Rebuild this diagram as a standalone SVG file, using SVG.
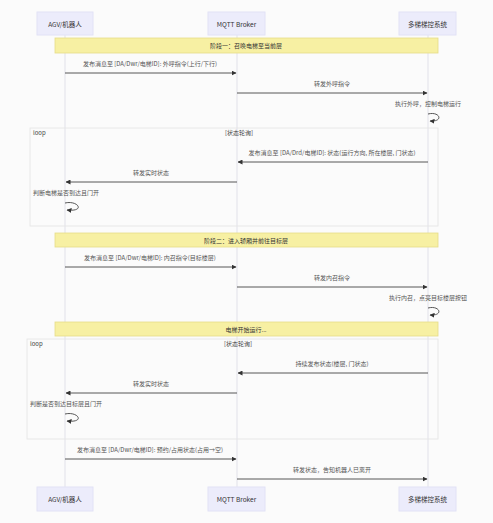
<svg xmlns="http://www.w3.org/2000/svg" width="493" height="523" viewBox="0 0 493 523">
<defs>
<style>
text{font-family:"Noto Sans CJK SC","Liberation Sans",sans-serif;fill:#333;}
.actor rect{fill:#ececfb;stroke:#e2e2f6;stroke-width:1;}
.actor text{font-size:6.5px;text-anchor:middle;dominant-baseline:central;}
.life{stroke:#dcdce6;stroke-width:0.8;}
.note rect{fill:#f7f0a3;stroke:#e6dc88;stroke-width:0.8;}
.note text{font-size:6px;text-anchor:middle;dominant-baseline:central;}
.msg{stroke:#444;stroke-width:0.9;fill:none;marker-end:url(#ah);}
.lbl{font-size:6px;text-anchor:middle;fill:#555;}
.lbll{font-size:6px;fill:#555;}
.loop{fill:none;stroke:#e3e3e3;stroke-width:0.8;}
.lt{font-size:6px;fill:#444;}
</style>
<marker id="ah" viewBox="0 0 10 10" refX="9" refY="5" markerWidth="5" markerHeight="5" orient="auto-start-reverse" markerUnits="userSpaceOnUse">
<path d="M0,0 L10,5 L0,10 z" fill="#333"/>
</marker>
</defs>
<rect width="493" height="523" fill="#fbfbfb"/>

<g id="lifelines">
<line class="life" x1="65" y1="35" x2="65" y2="487"/>
<line class="life" x1="237" y1="35" x2="237" y2="487"/>
<line class="life" x1="428" y1="35" x2="428" y2="487"/>
</g>

<g id="loop1">
<rect class="loop" x="30" y="128" width="408" height="98"/>
<text class="lt" x="33" y="135">loop</text>
<text class="lt" x="239" y="135" text-anchor="middle">[状态轮询]</text>
</g>
<g id="loop2">
<rect class="loop" x="27" y="339" width="411" height="100"/>
<text class="lt" x="30" y="346">loop</text>
<text class="lt" x="238" y="346" text-anchor="middle">[状态轮询]</text>
</g>

<g id="actor-agv-top" class="actor"><rect x="37" y="12" width="56" height="23"/><text x="65" y="23.5">AGV/机器人</text></g>
<g id="actor-mqtt-top" class="actor"><rect x="208" y="12" width="57" height="23"/><text x="236.5" y="23.5">MQTT Broker</text></g>
<g id="actor-sys-top" class="actor"><rect x="399" y="12" width="57" height="23"/><text x="427.5" y="23.5">多梯梯控系统</text></g>

<g id="actor-agv-bottom" class="actor"><rect x="37" y="487" width="56" height="24"/><text x="65" y="499">AGV/机器人</text></g>
<g id="actor-mqtt-bottom" class="actor"><rect x="208" y="487" width="57" height="24"/><text x="236.5" y="499">MQTT Broker</text></g>
<g id="actor-sys-bottom" class="actor"><rect x="399" y="487" width="57" height="24"/><text x="427.5" y="499">多梯梯控系统</text></g>

<g id="note1" class="note"><rect x="55" y="38" width="383" height="15"/><text x="246" y="45.5">阶段一：召唤电梯至当前层</text></g>
<g id="note2" class="note"><rect x="55" y="233" width="383" height="14"/><text x="246" y="240">阶段二：进入轿厢并前往目标层</text></g>
<g id="note3" class="note"><rect x="55" y="322" width="383" height="14"/><text x="246" y="329">电梯开始运行...</text></g>

<g id="connectors">
<line class="msg" x1="65" y1="73" x2="236" y2="73"/>
<line class="msg" x1="237" y1="93" x2="427" y2="93"/>
<path class="msg" d="M428,114 C440,111 444,122 430,121"/>
<line class="msg" x1="428" y1="162" x2="238" y2="162"/>
<line class="msg" x1="237" y1="182" x2="66" y2="182"/>
<path class="msg" d="M65,203 C78,200 86,212 67,210"/>
<line class="msg" x1="65" y1="267" x2="236" y2="267"/>
<line class="msg" x1="237" y1="287" x2="427" y2="287"/>
<path class="msg" d="M428,308 C440,305 444,316 430,315"/>
<line class="msg" x1="428" y1="373" x2="238" y2="373"/>
<line class="msg" x1="237" y1="393" x2="66" y2="393"/>
<path class="msg" d="M65,414 C78,411 86,423 67,421"/>
<line class="msg" x1="65" y1="459" x2="236" y2="459"/>
<line class="msg" x1="237" y1="479" x2="427" y2="479"/>
</g>

<g id="labels">
<text class="lbl" x="150" y="66">发布消息至 [DA/Dwr/电梯ID]: 外呼指令(上行/下行)</text>
<text class="lbl" x="332" y="86">转发外呼指令</text>
<text class="lbl" x="428" y="106">执行外呼，控制电梯运行</text>
<text class="lbl" x="332" y="155">发布消息至 [DA/Drd/电梯ID]: 状态(运行方向, 所在楼层, 门状态)</text>
<text class="lbl" x="151" y="175">转发实时状态</text>
<text class="lbll" x="33" y="195">判断电梯是否到达且门开</text>
<text class="lbl" x="150" y="260">发布消息至 [DA/Dwr/电梯ID]: 内召指令(目标楼层)</text>
<text class="lbl" x="332" y="280">转发内召指令</text>
<text class="lbl" x="428" y="300">执行内召，点亮目标楼层按钮</text>
<text class="lbl" x="332" y="366">持续发布状态(楼层, 门状态)</text>
<text class="lbl" x="151" y="386">转发实时状态</text>
<text class="lbll" x="30" y="406">判断是否到达目标层且门开</text>
<text class="lbl" x="150" y="452">发布消息至 [DA/Dwr/电梯ID]: 预约/占用状态(占用→空)</text>
<text class="lbl" x="332" y="472">转发状态，告知机器人已离开</text>
</g>
</svg>
